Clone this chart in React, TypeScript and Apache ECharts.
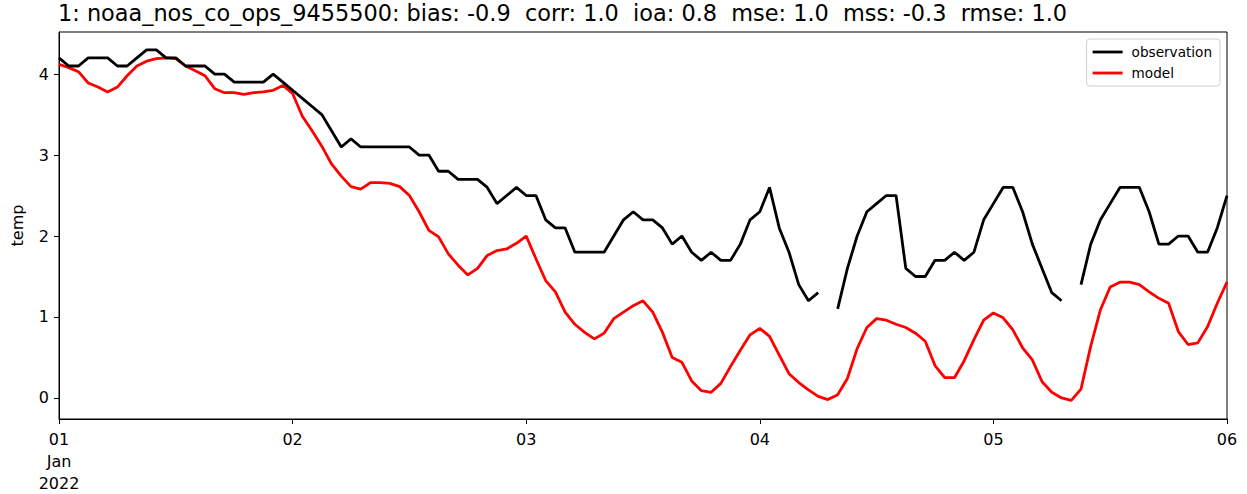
import React, { useEffect, useRef } from "react";
import * as echarts from "echarts";

const titleText =
  "1: noaa_nos_co_ops_9455500: bias: -0.9  corr: 1.0  ioa: 0.8  mse: 1.0  mss: -0.3  rmse: 1.0";

// hourly values, Jan 01 00:00 to Jan 06 00:00 (hour index 0..120)
const observation: (number | null)[] = [
  4.2, 4.1, 4.1, 4.2, 4.2, 4.2, 4.1, 4.1, 4.2, 4.3, 4.3, 4.2, 4.2, 4.1, 4.1, 4.1,
  4.0, 4.0, 3.9, 3.9, 3.9, 3.9, 4.0, 3.9, 3.8, 3.7, 3.6, 3.5, 3.3, 3.1, 3.2, 3.1,
  3.1, 3.1, 3.1, 3.1, 3.1, 3.0, 3.0, 2.8, 2.8, 2.7, 2.7, 2.7, 2.6, 2.4, 2.5, 2.6,
  2.5, 2.5, 2.2, 2.1, 2.1, 1.8, 1.8, 1.8, 1.8, 2.0, 2.2, 2.3, 2.2, 2.2, 2.1, 1.9,
  2.0, 1.8, 1.7, 1.8, 1.7, 1.7, 1.9, 2.2, 2.3, 2.6, 2.1, 1.8, 1.4, 1.2, 1.3, null,
  1.1, 1.6, 2.0, 2.3, 2.4, 2.5, 2.5, 1.6, 1.5, 1.5, 1.7, 1.7, 1.8, 1.7, 1.8, 2.2,
  2.4, 2.6, 2.6, 2.3, 1.9, 1.6, 1.3, 1.2, null, 1.4, 1.9, 2.2, 2.4, 2.6, 2.6, 2.6,
  2.3, 1.9, 1.9, 2.0, 2.0, 1.8, 1.8, 2.1, 2.5,
];

const model: number[] = [
  4.12, 4.08, 4.03, 3.89, 3.84, 3.78, 3.84, 3.98, 4.1, 4.16, 4.19, 4.2, 4.19, 4.1, 4.04, 3.98,
  3.82, 3.77, 3.77, 3.75, 3.77, 3.78, 3.8, 3.86, 3.76, 3.48, 3.3, 3.11, 2.89, 2.74, 2.61, 2.58,
  2.66, 2.66, 2.65, 2.61, 2.5, 2.3, 2.07, 1.99, 1.78, 1.64, 1.52, 1.6, 1.76, 1.82, 1.84, 1.91,
  2.0, 1.72, 1.45, 1.31, 1.06, 0.91, 0.81, 0.73, 0.8, 0.98, 1.06, 1.14, 1.2, 1.06, 0.81, 0.5,
  0.44, 0.21, 0.09, 0.07, 0.18, 0.39, 0.59, 0.78, 0.86, 0.76, 0.53, 0.3, 0.19, 0.1, 0.02, -0.02,
  0.04, 0.24, 0.61, 0.87, 0.98, 0.96, 0.91, 0.87, 0.8, 0.7, 0.4, 0.25, 0.25, 0.46, 0.72, 0.96,
  1.05, 0.99, 0.84, 0.62, 0.47, 0.2, 0.07, 0.0, -0.03, 0.11, 0.64, 1.09, 1.37, 1.43, 1.43, 1.4,
  1.31, 1.23, 1.17, 0.82, 0.66, 0.68, 0.88, 1.17, 1.43,
];

const xTickLabels = ["01\nJan\n2022", "02", "03", "04", "05", "06"];
const yTicks = [0, 1, 2, 3, 4];
const seriesNames = ["observation", "model"];
const seriesColors = ["#000000", "#ff0000"];

const FONT = "DejaVu Sans";
const XML_NS = "http://www.w3.org/XML/1998/namespace";

export default function App() {
  const ref = useRef<HTMLDivElement>(null);

  useEffect(() => {
    document.body.style.margin = "0";
    const styleEl = document.createElement("style");
    styleEl.textContent = "svg text, svg tspan { white-space: pre; }";
    document.head.appendChild(styleEl);
    if (!ref.current) return;
    const root = ref.current;
    const chart = echarts.init(root, undefined, { renderer: "svg" });

    const preserveSpaces = () => {
      root.querySelectorAll("text").forEach((t) => {
        t.setAttributeNS(XML_NS, "xml:space", "preserve");
        (t as SVGElement).style.whiteSpace = "pre";
      });
    };

    const obsData = observation.map((v, i) => [i, v === null ? "-" : v]);
    const modData = model.map((v, i) => [i, v]);

    chart.on("finished", preserveSpaces);

    chart.setOption({
      animation: false,
      backgroundColor: "#ffffff",
      textStyle: { fontFamily: FONT },
      title: {
        text: titleText,
        left: 58,
        top: 2,
        padding: 0,
        textStyle: { fontFamily: FONT, fontSize: 22.4, fontWeight: "normal", color: "#000" },
      },
      grid: {
        left: 59,
        right: 20,
        top: 32,
        bottom: 73,
        show: true,
        borderColor: "#000",
        borderWidth: 1,
        backgroundColor: "transparent",
      },
      legend: {
        data: seriesNames.map((n) => ({ name: n, icon: "rect" })),
        orient: "vertical",
        right: 27,
        top: 39,
        itemWidth: 30,
        itemHeight: 2.8,
        itemGap: 7,
        padding: [6, 8, 6, 6],
        backgroundColor: "#fff",
        borderColor: "#d0d0d0",
        borderWidth: 1,
        borderRadius: 3,
        textStyle: { fontFamily: FONT, fontSize: 13.6, color: "#000", padding: [0, 0, 0, 4] },
      },
      xAxis: {
        type: "value",
        min: 0,
        max: 120,
        interval: 24,
        axisLine: { show: true, onZero: false, lineStyle: { color: "#000", width: 1 } },
        axisTick: { show: true, length: 5, lineStyle: { color: "#000" } },
        splitLine: { show: false },
        axisLabel: {
          fontFamily: FONT,
          fontSize: 16,
          color: "#000",
          margin: 9,
          lineHeight: 22,
          formatter: (v: number) => xTickLabels[Math.round(v / 24)] ?? "",
        },
      },
      yAxis: {
        type: "value",
        min: -0.26,
        max: 4.52,
        name: "temp",
        nameLocation: "middle",
        nameGap: 34,
        nameTextStyle: { fontFamily: FONT, fontSize: 16, color: "#000" },
        axisLine: { show: true, lineStyle: { color: "#000", width: 1 } },
        axisTick: { show: true, length: 5, lineStyle: { color: "#000" }, customValues: yTicks },
        splitLine: { show: false },
        axisLabel: {
          fontFamily: FONT,
          fontSize: 16,
          color: "#000",
          margin: 10,
          customValues: yTicks,
          formatter: (v: number) => String(v),
        },
      },
      series: [
        {
          name: seriesNames[0],
          type: "line",
          data: obsData,
          symbol: "none",
          connectNulls: false,
          lineStyle: { color: seriesColors[0], width: 2.8 },
          itemStyle: { color: seriesColors[0] },
          z: 3,
        },
        {
          name: seriesNames[1],
          type: "line",
          data: modData,
          symbol: "none",
          lineStyle: { color: seriesColors[1], width: 2.8 },
          itemStyle: { color: seriesColors[1] },
          z: 2,
        },
      ],
    });
    preserveSpaces();

    return () => {
      chart.dispose();
      styleEl.remove();
    };
  }, []);

  return <div ref={ref} style={{ width: 1247, height: 494 }} />;
}
